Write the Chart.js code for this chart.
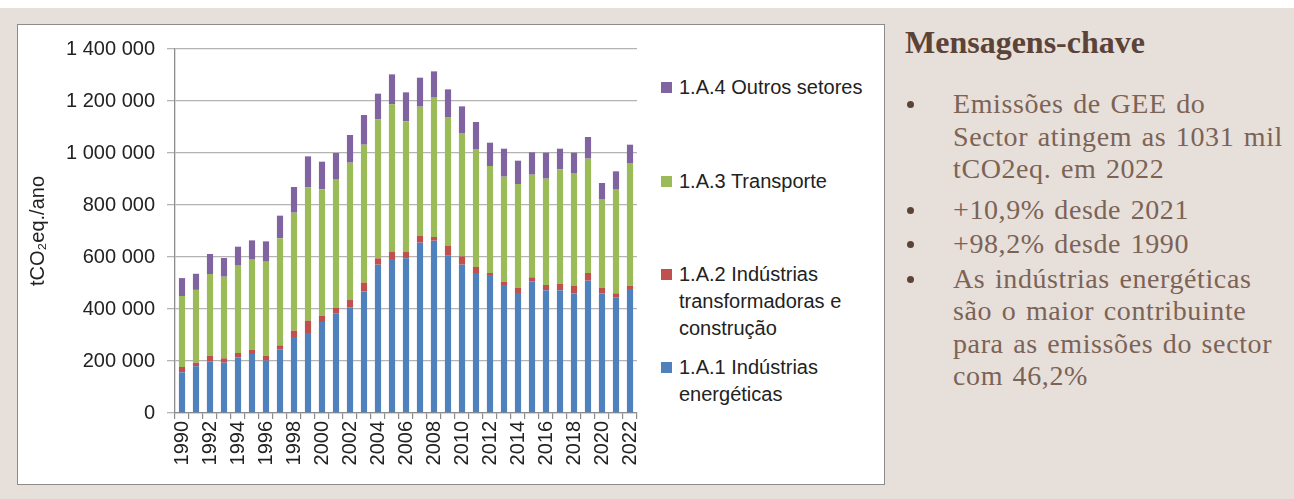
<!DOCTYPE html>
<html lang="pt">
<head>
    <meta charset="UTF-8">
    <title>Emissões do sector energia</title>
    <script src="https://cdn.jsdelivr.net/npm/chart.js"></script>
    <style>
        body {
            margin: 0;
            width: 1294px;
            height: 499px;
            position: relative;
            overflow: hidden;
            background-color: #e7dfda;
            font-family: 'Liberation Sans', Arial, sans-serif;
        }

        .top-strip {
            position: absolute;
            left: 0; top: 0;
            width: 1294px; height: 8px;
            background: #fff;
        }

        .chart-box {
            position: absolute;
            left: 17px; top: 24px;
            width: 866px; height: 459px;
            background: #fff;
            border: 1px solid #8c8c8c;
        }

        .chart-wrap {
            position: absolute;
            left: 18px; top: 25px;
            width: 638px; height: 459px;
        }

        .legend {
            position: absolute;
            left: 0; top: 0;
            font-size: 20px;
            line-height: 27px;
            color: #222;
        }

        .legend-item {
            position: absolute;
            left: 679px;
            white-space: nowrap;
        }

        .legend-item span {
            position: absolute;
            left: -18px;
            top: 8px;
            width: 11px;
            height: 11px;
        }

        .panel {
            position: absolute;
            left: 905px; top: 0;
            font-family: 'Liberation Serif', 'Times New Roman', serif;
        }

        .panel h2 {
            position: absolute;
            top: 24px; left: 0;
            margin: 0;
            font-size: 32px;
            font-weight: bold;
            color: #5b4337;
            white-space: nowrap;
        }

        .panel ul {
            position: absolute;
            top: 88px; left: 0;
            margin: 0; padding: 0;
            list-style: none;
            font-size: 28px;
            line-height: 32.5px;
            letter-spacing: 0.6px;
            word-spacing: 2px;
            color: #7b6356;
            white-space: nowrap;
        }

        .panel li {
            position: relative;
            padding-left: 48px;
        }

        .panel li::before {
            content: '';
            position: absolute;
            left: 2px; top: 13px;
            width: 7px; height: 7px;
            border-radius: 50%;
            background: #5b4337;
        }
    </style>
</head>
<body>
    <div class="top-strip"></div>
    <div class="chart-box"></div>
    <div class="chart-wrap">
        <canvas id="emissoesChart"></canvas>
    </div>

    <div class="legend">
        <div class="legend-item" style="top: 74px;"><span style="background:#8064A2"></span>1.A.4 Outros setores</div>
        <div class="legend-item" style="top: 168px;"><span style="background:#9BBB59"></span>1.A.3 Transporte</div>
        <div class="legend-item" style="top: 261px;"><span style="background:#C0504D"></span>1.A.2 Indústrias<br>transformadoras e<br>construção</div>
        <div class="legend-item" style="top: 354px;"><span style="background:#4F81BD"></span>1.A.1 Indústrias<br>energéticas</div>
    </div>

    <div class="panel">
        <h2>Mensagens-chave</h2>
        <ul>
            <li>Emissões de GEE do<br>Sector atingem as 1031 mil<br>tCO2eq. em 2022</li>
            <li style="margin-top: 8px;">+10,9% desde 2021</li>
            <li style="margin-top: 2px;">+98,2% desde 1990</li>
            <li style="margin-top: 2px;">As indústrias energéticas<br>são o maior contribuinte<br>para as emissões do sector<br>com 46,2%</li>
        </ul>
    </div>

    <script>
        // Anos do inventário
        const anos = ['1990', '1991', '1992', '1993', '1994', '1995', '1996', '1997', '1998', '1999',
            '2000', '2001', '2002', '2003', '2004', '2005', '2006', '2007', '2008', '2009',
            '2010', '2011', '2012', '2013', '2014', '2015', '2016', '2017', '2018', '2019',
            '2020', '2021', '2022'];

        // Emissões por subsector (tCO2eq./ano)
        const industriasEnergeticas = [156500, 180000, 198700, 193500, 214100, 226900, 201300, 243600,
            292300, 307700, 350000, 382000, 406400, 467900, 570500, 592300, 594800,
            655100, 662800, 606400, 570500, 538400, 530700, 492300, 461500,
            505100, 471800, 471800, 460200, 509000, 460200, 444900, 476900];

        const industriasTransformadoras = [20400, 13500, 20500, 16900, 16700, 16700, 19200, 16600,
            24400, 47400, 24300, 21800, 29500, 33400, 24300, 28200, 25700,
            26900, 14100, 37200, 32000, 23100, 7700, 12800, 20500,
            16700, 20500, 25600, 28200, 29400, 21800, 15300, 12800];

        const transporte = [273000, 280000, 315400, 313800, 335800, 346100, 361500, 411600,
            453800, 512800, 485900, 493600, 526900, 530700, 534600, 566600, 501300,
            496200, 535900, 494800, 474400, 453800, 411600, 403800, 398700,
            394800, 408900, 439700, 432100, 439800, 341000, 398700, 471800];

        const outrosSetores = [69000, 62000, 77000, 72000, 73100, 74300, 78200, 87200,
            98700, 119200, 106400, 102600, 106400, 114100, 98800, 115400, 111500,
            111500, 101200, 106400, 102500, 103900, 89700, 107700, 89800,
            85900, 100000, 79500, 80700, 83300, 61600, 70600, 70500];

        const eixoY = { min: 0, max: 1400000, passo: 200000 };

        const fonte = { family: "'Liberation Sans', Arial, sans-serif", size: 20 };

        const formatarMilhares = (v) => String(v).replace(/\B(?=(\d{3})+(?!\d))/g, ' ');

        const ctx = document.getElementById('emissoesChart').getContext('2d');
        const emissoesChart = new Chart(ctx, {
            type: 'bar',
            data: {
                labels: anos,
                datasets: [
                    { label: '1.A.1 Indústrias energéticas', data: industriasEnergeticas, backgroundColor: '#4F81BD' },
                    { label: '1.A.2 Indústrias transformadoras e construção', data: industriasTransformadoras, backgroundColor: '#C0504D' },
                    { label: '1.A.3 Transporte', data: transporte, backgroundColor: '#9BBB59' },
                    { label: '1.A.4 Outros setores', data: outrosSetores, backgroundColor: '#8064A2' }
                ]
            },
            options: {
                responsive: true,
                maintainAspectRatio: false,
                animation: false,
                barPercentage: 0.44,
                categoryPercentage: 1,
                layout: { padding: { top: 24, right: 0, left: 0, bottom: 0 } },
                plugins: {
                    legend: { display: false },
                    tooltip: { enabled: false }
                },
                scales: {
                    x: {
                        stacked: true,
                        offset: true,
                        grid: {
                            offset: true,
                            drawOnChartArea: false,
                            drawTicks: true,
                            tickLength: 6,
                            color: '#8c8c8c',
                            lineWidth: 1.2
                        },
                        border: { color: '#8c8c8c', width: 1.3 },
                        ticks: {
                            autoSkip: false,
                            maxRotation: 90,
                            minRotation: 90,
                            padding: 2,
                            color: '#222',
                            font: fonte,
                            callback: function (value, index) {
                                return index % 2 === 0 ? this.getLabelForValue(value) : '';
                            }
                        },
                        afterFit: (scale) => { scale.height = 71; }
                    },
                    y: {
                        stacked: true,
                        min: eixoY.min,
                        max: eixoY.max,
                        grid: {
                            color: '#b4b4b4',
                            lineWidth: 1.3,
                            tickLength: 8
                        },
                        border: { color: '#8c8c8c', width: 1.3 },
                        ticks: {
                            stepSize: eixoY.passo,
                            padding: 12,
                            color: '#222',
                            font: fonte,
                            callback: (v) => formatarMilhares(v)
                        },
                        title: {
                            display: true,
                            text: 'tCO₂eq./ano',
                            color: '#222',
                            font: fonte,
                            padding: { top: 8, bottom: 0 }
                        },
                        afterFit: (scale) => { scale.width = 157; }
                    }
                }
            }
        });
    </script>
</body>
</html>
